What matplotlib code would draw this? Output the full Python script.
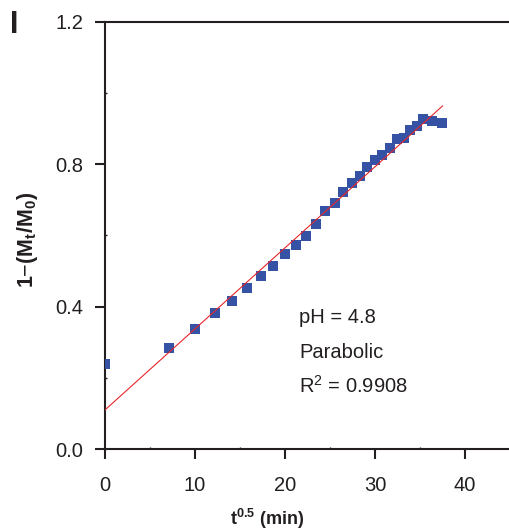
import matplotlib
matplotlib.use('Agg')
import matplotlib.pyplot as plt
from matplotlib.ticker import MultipleLocator

plt.rcParams['font.family'] = ['Liberation Sans', 'DejaVu Sans']
plt.rcParams['mathtext.fontset'] = 'custom'
plt.rcParams['mathtext.rm'] = 'Liberation Sans'
plt.rcParams['mathtext.bf'] = 'Liberation Sans:bold'

# data
t_sqrt = [0.0, 7.07, 10.0, 12.25, 14.14, 15.81, 17.32, 18.71, 20.0, 21.21,
          22.36, 23.45, 24.49, 25.5, 26.46, 27.39, 28.28, 29.15, 30.0, 30.82,
          31.62, 32.4, 33.17, 33.91, 34.64, 35.36, 36.35, 37.42]
frac = [0.239, 0.284, 0.337, 0.382, 0.416, 0.453, 0.486, 0.514, 0.548, 0.573,
        0.599, 0.632, 0.669, 0.691, 0.722, 0.748, 0.767, 0.793, 0.812, 0.826,
        0.846, 0.871, 0.874, 0.897, 0.908, 0.927, 0.922, 0.916]
fit_x = [0.0, 37.5]
fit_y = [0.110, 0.964]
notes = ['pH = 4.8', 'Parabolic', r'R$^2$ = 0.9908']

fig = plt.figure(figsize=(5.10, 5.31), dpi=100)
ax = fig.add_axes([0.206, 0.1544, 0.794, 0.8042])

ax.plot(t_sqrt, frac, 's', color='#3552a5', markersize=7.5, markeredgewidth=0, zorder=3)
ax.plot(fit_x, fit_y, '-', color='#e8262b', linewidth=0.8, zorder=4)

ax.set_xlim(0, 45)
ax.set_ylim(0, 1.2)
ax.set_xticks([0, 10, 20, 30, 40])
ax.set_yticks([0.0, 0.4, 0.8, 1.2])
ax.set_yticklabels(['0.0', '0.4', '0.8', '1.2'])
ax.xaxis.set_minor_locator(MultipleLocator(5))
ax.yaxis.set_minor_locator(MultipleLocator(0.2))

ax.spines['right'].set_visible(False)
for s in ['left', 'bottom', 'top']:
    ax.spines[s].set_linewidth(1.5)
    ax.spines[s].set_color('#231f20')
ax.tick_params(axis='both', which='major', direction='out', length=7.5, width=1.5,
               labelsize=14.5, colors='#231f20')
ax.tick_params(axis='x', which='major', pad=12, top=False)
ax.tick_params(axis='y', which='major', pad=8, right=False)
ax.tick_params(axis='both', which='minor', direction='in', length=1.5, width=1.0,
               top=False, right=False, colors='#231f20')

ax.set_xlabel(r'$\mathbf{t^{0.5}}$ (min)', fontsize=13, fontweight='bold', color='#231f20')
ax.xaxis.set_label_coords(0.40, -0.136)
ax.set_ylabel(r'1$-$(M$_\mathbf{t}$/M$_\mathbf{0}$)', fontsize=15.5, fontweight='bold',
              color='#231f20')
ax.yaxis.set_label_coords(-0.16, 0.49)

for i, s in enumerate(notes):
    ax.text(0.48, 0.307 - i * 0.08, s, transform=ax.transAxes, fontsize=14.5,
            color='#231f20', va='center', ha='left')

fig.text(0.02, 0.953, 'I', fontsize=22, fontweight='bold', color='#231f20',
         va='center', ha='left')

fig.savefig('out.png', dpi=100)
